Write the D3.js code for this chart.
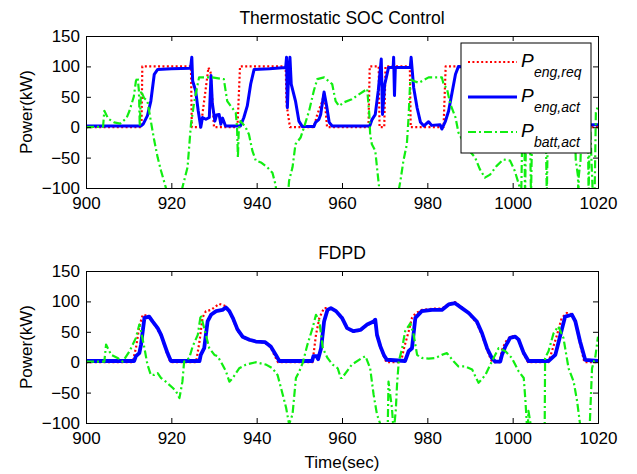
<!DOCTYPE html>
<html>
<head>
<meta charset="utf-8">
<script src="https://cdn.jsdelivr.net/npm/d3@7"></script>
<style>
  body { margin: 0; background: #fff; }
  text { font-family: "Liberation Sans", Arial, sans-serif; fill: #000; }
</style>
</head>
<body>
<div class="chart"></div>
<script>
// ---- data (time in sec, power in kW) ----
const xTicks = [900, 920, 940, 960, 980, 1000, 1020];
const yTicks = [-100, -50, 0, 50, 100, 150];
const seriesNames = ["eng,req", "eng,act", "batt,act"];

// Thermostatic SOC Control
const thermoReq = [[900,0],[913.0,0],[913.2,100],[924.6,100],[924.8,0],[926.9,0],[928.7,98],[929.2,90],[930.0,0],[935.5,0],[936.1,100],[946.8,100],[947.0,38],[947.8,0],[953.4,0],[954.2,21],[955.4,43],[955.8,57],[956.5,0],[966.2,0],[966.5,100],[968.6,100],[968.8,0],[969.9,0],[970.2,100],[975.9,100],[976.1,0],[983.8,0],[984.3,100],[993.0,100],[993.3,0],[1011.0,0],[1011.3,100],[1016.0,100],[1016.3,0],[1020,0]];
const thermoAct = [[900,2],[912.9,2],[913.4,5],[914.4,19],[915.2,43],[916.0,87],[916.8,95],[920,96],[924.5,97],[924.8,115],[925.0,76],[925.7,60],[926.3,27],[926.9,0],[927.3,16],[928.1,13],[928.9,16],[929.3,85],[929.6,40],[930.2,10],[930.6,20],[931.2,21],[931.6,5],[932.0,15],[932.7,2],[936.2,2],[937.0,16],[937.8,35],[938.6,71],[939.4,95],[943,96],[946.8,98],[947.0,115],[947.2,32],[947.5,90],[947.8,115],[948.1,71],[949.1,43],[949.9,10],[950.7,1],[953.4,1],[953.8,8],[954.6,13],[955.0,21],[955.8,58],[956.4,35],[957.0,8],[957.7,2],[966.5,2],[967.0,12],[967.8,21],[968.5,60],[969.2,112],[969.5,21],[970.0,70],[970.9,98],[972.0,98],[972.1,115],[972.3,52],[972.5,98],[976.0,98],[976.2,115],[976.8,65],[977.6,32],[978.4,8],[979.2,2],[980.3,9],[981.0,3],[983.0,4],[983.4,-3],[984.2,9],[985.0,27],[985.8,57],[986.6,87],[987.3,100],[993.0,96],[994.5,30],[995.5,2],[1020,4]];
const thermoBatt = [[900,0],[904.0,1],[904.3,27],[905.2,14],[906.6,8],[908.0,6],[909.5,15],[910.2,27],[911.2,50],[911.7,76],[912.1,82],[912.4,60],[912.6,2],[912.9,60],[913.6,48],[914.4,43],[915.2,10],[916.0,-22],[916.8,-50],[917.6,-72],[918.7,-99],[919.2,-115],[922.3,-115],[922.6,-99],[923.8,-66],[924.6,5],[925.4,43],[926.5,82],[929.6,82],[932.3,79],[933.1,43],[933.9,35],[935.1,24],[935.4,0],[935.6,-50],[935.8,-5],[936.2,10],[937.4,0],[938.2,-12],[939.0,-39],[939.8,-55],[941.0,-58],[942.5,-66],[943.7,-75],[944.4,-94],[944.8,-115],[947.3,-115],[947.6,-88],[948.4,-66],[949.1,-28],[950.3,-17],[951.1,0],[952.3,27],[953.4,60],[954.2,79],[955.8,82],[957.7,71],[958.5,43],[959.3,35],[960.5,41],[962.3,46],[965.9,63],[966.4,21],[966.6,-12],[967.0,-28],[967.8,-39],[968.2,-66],[968.7,-99],[969.0,-115],[973.0,-115],[973.7,-88],[974.4,-55],[975.2,-28],[975.6,16],[976.0,79],[976.8,76],[978.0,73],[980.3,82],[983.4,82],[983.8,71],[984.6,63],[985.4,38],[986.6,16],[987.3,-9],[988.5,-25],[990.0,-40],[991.2,-50],[992.3,-69],[993.5,-83],[994.7,-78],[996.2,-64],[997.8,-53],[999.4,-55],[1000.5,-72],[1001.7,-100],[1002.0,-115],[1002.3,10],[1002.7,20],[1002.9,-115],[1003.2,15],[1004.0,20],[1004.3,-115],[1004.6,10],[1007.7,25],[1008.0,-115],[1008.3,20],[1014.5,10],[1014.8,-55],[1015.3,-80],[1015.4,-115],[1015.5,-80],[1015.9,-55],[1016.2,10],[1017.6,20],[1017.8,-115],[1018.1,15],[1018.8,-115],[1019.2,-115],[1019.5,24],[1020,35]];

// FDPD
const fdpdReq = [[900,0],[910.9,0],[911.7,23],[912.5,59],[913.3,78],[914.8,76],[915.6,66],[916.8,54],[917.6,43],[918.4,27],[919.1,12],[919.8,0],[925.8,0],[926.6,34],[927.3,73],[928.1,84],[929.3,86],[931.2,96],[932.8,92],[933.6,84],[934.4,71],[935.5,52],[936.7,41],[938.3,36],[939.8,34],[942.0,32],[943.3,24],[944.4,8],[945.0,0],[953.1,0],[953.9,45],[954.7,73],[955.8,89],[957.4,89],[958.6,84],[959.7,74],[960.0,72],[961.2,55],[962.7,50],[964.3,52],[965.9,61],[967.4,66],[967.8,68],[968.2,43],[969.0,24],[969.8,10],[970.4,0],[973.8,0],[974.6,25],[975.6,50],[976.4,73],[977.2,80],[978.7,86],[981.1,88],[983.4,88],[985.0,96],[986.5,99],[988.1,90],[989.7,80],[991.6,64],[992.8,45],[994.0,20],[995.0,3],[995.6,0],[996.9,0],[997.5,20],[998.3,33],[999.4,42],[1000.6,43],[1001.4,36],[1002.6,13],[1003.6,0],[1008.4,0],[1010.4,45],[1011.5,73],[1012.7,81],[1013.9,79],[1014.7,66],[1015.8,30],[1016.8,0],[1020,0]];
const fdpdAct = [[900,2],[911.3,2],[911.7,10],[912.5,15],[912.9,29],[913.7,73],[914.8,75],[915.6,67],[916.8,56],[917.6,45],[918.4,29],[919.1,15],[919.9,2],[926.6,2],[926.9,12],[927.7,23],[928.5,67],[929.3,78],[930.5,84],[932.0,86],[932.8,90],[933.6,84],[934.4,73],[935.5,54],[936.7,42],[938.3,37],[939.8,34],[942.0,33],[943.3,26],[944.5,12],[945.3,2],[953.0,2],[953.3,10],[954.0,10],[954.4,5],[955.1,23],[955.8,67],[956.6,86],[957.4,89],[958.6,84],[959.7,75],[960.0,73],[961.2,56],[962.7,51],[964.3,53],[965.9,62],[967.4,67],[967.8,70],[968.2,45],[969.0,26],[969.8,12],[970.5,4],[974.8,2],[975.6,18],[976.4,23],[977.2,73],[978.7,84],[981.1,86],[983.4,86],[985.0,95],[986.5,97],[988.1,89],[989.7,81],[991.6,67],[992.8,48],[994.0,23],[995.1,7],[995.9,1],[997.1,1],[997.5,12],[998.3,26],[999.4,40],[1000.6,42],[1001.4,37],[1002.6,15],[1003.7,2],[1008.4,2],[1010.0,12],[1011.2,45],[1012.3,75],[1013.9,78],[1014.7,67],[1015.8,34],[1017.0,4],[1020,2]];
const fdpdBatt = [[900,1],[904.3,1],[904.7,29],[905.9,12],[907.4,7],[908.6,1],[910.2,18],[911.7,40],[912.5,62],[912.9,51],[913.7,23],[914.4,-4],[915.2,-21],[916.0,-21],[916.8,-18],[917.6,-26],[918.7,-32],[920.3,-42],[921.1,-48],[921.9,-59],[922.6,-32],[923.0,1],[924.2,7],[925.0,26],[926.2,45],[926.9,78],[927.7,56],[928.9,23],[930.1,12],[930.8,10],[931.6,1],[932.8,-15],[933.6,-32],[934.4,-26],[935.9,-10],[937.5,-4],[939.8,0],[942.2,-4],[943.7,-10],[944.9,-21],[946.1,-53],[946.9,-75],[947.6,-102],[948.4,-86],[949.2,-26],[950.0,-15],[950.8,-1],[951.9,29],[953.1,56],[953.9,78],[954.7,67],[955.5,23],[956.6,7],[957.8,-4],[959.0,-10],[959.7,-26],[960.0,-26],[962.3,-4],[964.7,7],[965.5,10],[966.6,-10],[967.4,-53],[968.2,-86],[969.0,-102],[969.5,-115],[970.7,-115],[970.9,-32],[971.7,-75],[972.1,-115],[972.6,-80],[972.9,-37],[973.3,1],[974.1,23],[974.8,51],[976.0,64],[976.8,45],[977.6,12],[978.7,7],[980.3,6],[981.9,7],[983.4,12],[984.6,15],[986.2,1],[987.3,-7],[988.9,-7],[990.5,-12],[992.0,-34],[993.6,-21],[995.1,1],[996.7,23],[998.3,18],[999.8,7],[1001.4,-15],[1002.6,-26],[1003.0,-64],[1003.3,-100],[1003.5,-115],[1003.7,-80],[1004.5,-115],[1007.5,-115],[1007.6,7],[1008.4,18],[1009.6,48],[1010.7,59],[1011.9,40],[1013.1,-10],[1014.3,-32],[1015.1,-64],[1015.8,-102],[1016.0,-115],[1018.0,-115],[1018.6,-10],[1019.4,10],[1020,42]];

const panels = [
  {title: "Thermostatic SOC Control", top: 36, series: [thermoReq, thermoAct, thermoBatt], legend: true, blueW: 3},
  {title: "FDPD", top: 271, series: [fdpdReq, fdpdAct, fdpdBatt], legend: false, blueW: 3.8}
];

const styles = [
  {color: "#ff0000", width: 2.2, dash: "2,2.4"},
  {color: "#0000ff", width: 3.2, dash: null},
  {color: "#11ee11", width: 2.2, dash: "8,3,2,3"}
];

const W = 637, H = 474;
const left = 86, plotW = 512, plotH = 152;

const svg = d3.select(".chart").append("svg")
  .attr("width", W)
  .attr("height", H);

const xScale = d3.scaleLinear().domain([900, 1020]).range([left, left + plotW]);

panels.forEach((p, pi) => {
  const yScale = d3.scaleLinear().domain([-100, 150]).range([p.top + plotH, p.top]);
  const g = svg.append("g");

  const clipId = "clip" + pi;
  svg.append("clipPath").attr("id", clipId)
    .append("rect")
    .attr("x", left).attr("y", p.top)
    .attr("width", plotW).attr("height", plotH);

  const line = d3.line()
    .x(d => xScale(d[0]))
    .y(d => yScale(d[1]));

  const lines = g.append("g").attr("clip-path", `url(#${clipId})`);
  p.series.forEach((s, i) => {
    lines.append("path")
      .datum(s)
      .attr("fill", "none")
      .attr("stroke", styles[i].color)
      .attr("stroke-width", i === 1 ? p.blueW : styles[i].width)
      .attr("stroke-dasharray", styles[i].dash)
      .attr("stroke-linejoin", "round")
      .attr("d", line);
  });

  // axes, matlab style: ticks inward on all four sides
  const xAxis = d3.axisBottom(xScale).tickValues(xTicks).tickSize(-5).tickPadding(9).tickFormat(d3.format("d"));
  const xAxisTop = d3.axisTop(xScale).tickValues(xTicks).tickSize(-5).tickFormat("");
  const yAxis = d3.axisLeft(yScale).tickValues(yTicks).tickSize(-5).tickPadding(9);
  const yAxisRight = d3.axisRight(yScale).tickValues(yTicks).tickSize(-5).tickFormat("");

  g.append("g").attr("transform", `translate(0,${p.top + plotH})`).call(xAxis);
  g.append("g").attr("transform", `translate(0,${p.top})`).call(xAxisTop);
  const gy = g.append("g").attr("transform", `translate(${left},0)`).call(yAxis);
  g.append("g").attr("transform", `translate(${left + plotW},0)`).call(yAxisRight);

  g.selectAll(".domain").attr("stroke", "#000").attr("stroke-width", 1);
  g.selectAll(".tick line").attr("stroke", "#000");
  g.selectAll(".tick text").style("font-size", "17px").attr("fill", "#000")
    .style("font-family", '"Liberation Sans", Arial, sans-serif');
  gy.selectAll(".tick text").attr("dx", "3px");

  g.append("text")
    .attr("x", left + plotW / 2)
    .attr("y", p.top - 12)
    .attr("text-anchor", "middle")
    .style("font-size", "17.5px")
    .text(p.title);

  g.append("text")
    .attr("transform", `translate(32,${p.top + plotH / 2}) rotate(-90)`)
    .attr("text-anchor", "middle")
    .style("font-size", "17px")
    .text("Power(kW)");

  if (p.legend) {
    const lg = g.append("g");
    lg.append("rect")
      .attr("x", 461).attr("y", 43)
      .attr("width", 130).attr("height", 110)
      .attr("fill", "#fff").attr("stroke", "#000").attr("stroke-width", 1);

    seriesNames.forEach((name, i) => {
      const yy = 62 + i * 35;
      lg.append("line")
        .attr("x1", 468).attr("x2", 517)
        .attr("y1", yy).attr("y2", yy)
        .attr("stroke", styles[i].color)
        .attr("stroke-width", i === 1 ? 3 : 2.2)
        .attr("stroke-dasharray", styles[i].dash);
      lg.append("text")
        .attr("x", 521).attr("y", yy + 5)
        .style("font-size", "19px").style("font-style", "italic")
        .text("P");
      lg.append("text")
        .attr("x", 534).attr("y", yy + 15)
        .style("font-size", "14px").style("font-style", "italic")
        .text(name);
    });
  }
});

svg.append("text")
  .attr("x", left + plotW / 2)
  .attr("y", 468)
  .attr("text-anchor", "middle")
  .style("font-size", "17px")
  .text("Time(sec)");
</script>
</body>
</html>
